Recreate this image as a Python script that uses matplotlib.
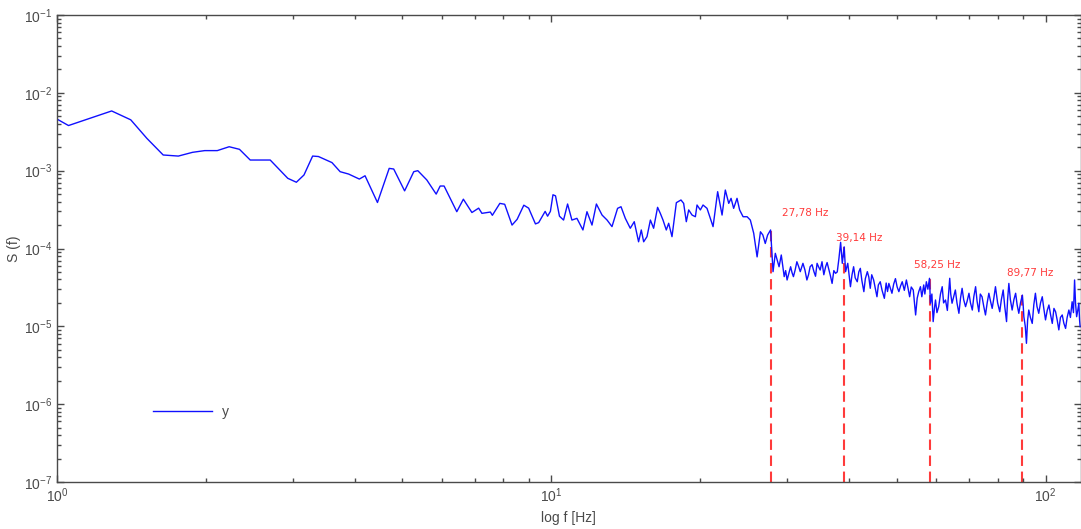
import matplotlib
matplotlib.use('Agg')
import matplotlib.pyplot as plt
from matplotlib.ticker import LogLocator, NullFormatter

# power spectrum S(f), frequency in Hz
freq = [
  1.0, 1.055, 1.29, 1.41, 1.52, 1.64, 1.76, 1.88, 1.99, 2.11, 2.23, 2.34, 2.46, 2.70, 2.93, 3.05,
  3.16, 3.29, 3.38, 3.60, 3.74, 3.89, 4.09, 4.20, 4.45, 4.70, 4.80, 5.05, 5.27, 5.37, 5.60, 5.85,
  5.96, 6.07, 6.44, 6.64, 6.91, 7.13, 7.24, 7.53, 7.60, 7.87, 8.05, 8.33, 8.53, 8.80, 9.00, 9.29,
  9.43, 9.72, 9.83, 9.96, 10.08, 10.2, 10.39,
  10.59, 10.79, 11.01, 11.27, 11.59, 11.81, 12.09, 12.34, 12.67, 12.97, 13.27, 13.62, 13.84, 14.12,
  14.45, 14.72, 15.02, 15.21, 15.38, 15.62, 15.87, 16.11, 16.41, 16.62, 16.83, 17.09, 17.28, 17.55,
  17.91, 18.30, 18.53, 18.76, 18.97, 19.27, 19.57, 19.72, 20.03, 20.28, 20.66, 21.25, 21.71, 22.16,
  22.50, 22.86, 23.11, 23.39, 23.76, 24.05, 24.44, 24.90, 25.28, 25.68, 26.09,
  26.5, 26.8, 27.1, 27.4, 27.78, 28.1, 28.4, 28.9, 29.2, 29.6, 29.8, 30.0, 30.5, 30.7, 30.9, 31.15,
  31.4, 31.65, 31.9, 32.3, 32.6, 32.9, 33.15, 33.4, 33.7, 34.0, 34.25, 34.5, 34.75, 35.0, 35.3,
  35.6, 35.9, 36.15, 36.4, 36.7, 37.0, 37.3, 37.6, 37.9, 38.2, 38.5, 38.8, 39.14, 39.4, 39.8,
  40.3, 40.6, 40.9, 41.2, 41.6, 41.9, 42.2, 42.5, 42.9, 43.2, 43.6, 43.9, 44.2, 44.5, 44.9, 45.2,
  45.6, 45.9, 46.3, 46.7, 47.2, 47.6, 47.9, 48.2, 48.6, 48.9, 49.3, 49.7, 50.1, 50.5, 50.9, 51.3,
  51.8, 52.3, 52.7, 53.1, 53.5, 54.0, 54.3, 54.6, 55.0, 55.4,
  55.84, 56.2, 56.7, 57.0, 57.4, 57.8, 58.25, 58.5, 58.9, 59.25, 59.6, 59.9, 60.3, 60.8, 61.3, 61.8,
  62.2, 62.75, 63.3, 64.0, 64.3, 64.7, 65.2, 65.7, 66.2, 66.8, 67.3, 67.8, 68.3, 68.9, 69.4, 70.0,
  70.5, 71.1, 71.6, 72.2, 72.7, 73.3, 73.8, 74.4, 75.0, 75.6, 76.2, 76.8, 77.4, 78.0, 78.6, 79.2,
  80.0, 80.8, 81.4, 82.1, 82.7, 83.4, 83.8, 84.3, 84.9, 85.6, 86.3, 87.0, 87.6, 88.3, 89.0, 89.77,
  90.1, 90.4, 91.0, 91.5, 92.0, 92.5, 93.2, 94.0, 94.7, 95.4, 96.1, 96.9, 97.7, 98.5, 99.2, 100.0,
  100.8, 101.6, 102.4, 103.2, 104.0, 104.8, 105.6, 106.4, 107.2, 108.1, 108.9, 109.8, 110.6, 111.5,
  112.3, 113.2, 113.9, 114.5, 115.0, 115.6, 116.2, 116.8, 117.2, 117.5,
]
spectrum = [
  4.6e-3, 3.8e-3, 5.85e-3, 4.5e-3, 2.6e-3, 1.59e-3, 1.54e-3, 1.72e-3, 1.81e-3, 1.81e-3, 2.03e-3,
  1.88e-3, 1.37e-3, 1.37e-3, 7.98e-4, 7.1e-4,
  8.8e-4, 1.54e-3, 1.52e-3, 1.27e-3, 9.7e-4, 9.05e-4, 7.8e-4, 8.6e-4, 3.9e-4, 1.07e-3, 1.05e-3,
  5.5e-4, 9.7e-4, 1.0e-3, 7.6e-4, 5.0e-4, 6.35e-4, 6.35e-4, 2.97e-4, 4.3e-4, 2.9e-4, 3.3e-4,
  2.83e-4, 2.94e-4, 2.67e-4, 3.8e-4, 3.7e-4, 2.0e-4, 2.37e-4, 3.6e-4, 3.3e-4, 2.07e-4, 2.15e-4,
  3.0e-4, 2.6e-4, 3.0e-4, 4.9e-4, 4.75e-4, 2.6e-4,
  2.32e-4, 3.73e-4, 2.32e-4, 2.44e-4, 1.73e-4, 2.97e-4, 2.0e-4, 3.73e-4, 2.69e-4, 2.32e-4,
  1.91e-4, 3.28e-4, 3.44e-4, 2.44e-4, 1.82e-4, 2.21e-4, 1.22e-4, 1.73e-4, 1.22e-4, 1.42e-4,
  2.32e-4, 1.82e-4, 3.38e-4, 2.83e-4, 2.32e-4, 1.73e-4, 2.11e-4, 1.42e-4, 3.88e-4, 4.2e-4,
  3.8e-4, 2.21e-4, 3.13e-4, 2.69e-4, 2.56e-4, 3.62e-4, 3.13e-4, 3.62e-4, 3.28e-4, 1.91e-4,
  5.37e-4, 2.69e-4, 5.64e-4, 3.8e-4, 4.41e-4, 3.28e-4, 4.41e-4, 3.13e-4, 2.56e-4, 2.56e-4,
  2.32e-4, 1.57e-4, 7.8e-5,
  1.64e-4, 1.49e-4, 1.16e-4, 1.49e-4, 1.73e-4, 5.04e-5, 8.67e-5, 5.83e-5, 8.25e-5, 4.35e-5,
  5.2e-5, 3.94e-5, 5.83e-5, 4.9e-5, 4.35e-5, 5.3e-5, 6.76e-5, 5.9e-5, 5.04e-5, 6.45e-5, 5.3e-5,
  3.94e-5, 4.6e-5, 5.83e-5, 6.2e-5, 5.04e-5, 4.4e-5, 6.45e-5, 5.8e-5, 5.29e-5, 6.76e-5,
  4.6e-5, 5.83e-5, 6.6e-5, 5.56e-5, 4.5e-5, 3.56e-5, 5.2e-5, 4.8e-5, 5.0e-5, 7.48e-5, 1.2e-4,
  6.45e-5, 1.05e-4, 5.04e-5, 6.45e-5,
  3.23e-5, 4.6e-5, 5.83e-5, 4.2e-5, 3.74e-5, 5.0e-5, 5.56e-5, 3.9e-5, 2.79e-5, 4.1e-5, 5.04e-5,
  4.3e-5, 3.08e-5, 4.6e-5, 3.94e-5, 3.2e-5, 2.4e-5, 3.4e-5, 3.74e-5, 2.9e-5, 2.29e-5, 3.6e-5,
  2.8e-5, 3.56e-5, 3.0e-5, 2.66e-5, 3.5e-5, 4.1e-5, 3.2e-5, 2.79e-5, 3.3e-5, 3.74e-5, 2.9e-5,
  3.94e-5, 3.1e-5, 2.4e-5, 3.2e-5, 2.93e-5, 2.0e-5, 1.4e-5, 2.3e-5, 2.79e-5,
  3.23e-5, 2.4e-5, 3.4e-5, 2.6e-5, 3.74e-5, 3.0e-5, 4.14e-5, 1.98e-5, 2.6e-5, 1.15e-5, 1.7e-5,
  2.18e-5, 1.5e-5, 1.79e-5, 2.6e-5, 3.23e-5, 2.0e-5, 2.18e-5, 1.6e-5, 4.14e-5, 2.6e-5, 1.98e-5,
  2.4e-5, 2.93e-5, 2.0e-5, 1.47e-5, 2.3e-5, 3.08e-5, 2.2e-5, 1.79e-5, 2.1e-5, 2.66e-5, 2.0e-5,
  1.62e-5, 2.4e-5, 3.23e-5, 2.1e-5, 1.54e-5, 2.6e-5, 2.4e-5, 1.8e-5, 1.4e-5, 2.0e-5, 2.66e-5,
  2.1e-5, 1.7e-5, 2.3e-5, 3.23e-5, 2.0e-5, 1.54e-5, 2.2e-5, 2.93e-5, 1.8e-5, 1.15e-5, 2.2e-5,
  3.56e-5, 2.2e-5, 1.62e-5, 2.2e-5, 2.66e-5, 1.9e-5, 1.47e-5, 2.0e-5, 2.52e-5, 1.9e-5, 1.33e-5,
  1.0e-5, 6.05e-6, 1.2e-5, 1.62e-5, 1.3e-5, 1.09e-5, 1.9e-5, 2.66e-5, 1.8e-5, 1.47e-5, 2.0e-5,
  2.4e-5, 1.7e-5, 1.21e-5, 1.6e-5, 1.88e-5, 1.4e-5, 1.09e-5, 1.7e-5, 1.54e-5, 1.2e-5, 9.0e-6,
  1.3e-5, 1.4e-5, 1.1e-5, 9.4e-6, 1.3e-5, 1.62e-5, 1.3e-5, 2.07e-5, 1.5e-5, 3.94e-5, 2.0e-5,
  1.33e-5, 1.6e-5, 1.98e-5, 1.2e-5, 9.9e-6,
]

# marked peaks
peak_freq = [27.78, 39.14, 58.25, 89.77]
peak_value = [1.73e-4, 1.05e-4, 4.14e-5, 2.52e-5]
peak_labels = ['27,78 Hz', '39,14 Hz', '58,25 Hz', '89,77 Hz']
# where each label sits (freq, S)
label_pos = [(29.35, 2.86e-4), (37.6, 1.36e-4), (54.1, 6.1e-5), (83.4, 4.8e-5)]

plt.rcParams['font.family'] = ['Liberation Sans', 'DejaVu Sans']
grey = '#4a4a4a'

fig = plt.figure(figsize=(10.81, 5.29), dpi=100)
ax = fig.add_axes([57 / 1081, 47 / 529, 1023.5 / 1081, 467 / 529])

ax.plot(freq, spectrum, color='#1010ff', lw=1.0, label='y')

for f, v in zip(peak_freq, peak_value):
  ax.plot([f, f], [1e-7, v], color='#ff3b3b', lw=1.5, linestyle=(0, (5, 2.7)), zorder=1)

for (lx, ly), txt in zip(label_pos, peak_labels):
  ax.text(lx, ly, txt, color='#ff3b3b', fontsize=7.5, family='DejaVu Sans',
          ha='left', va='center')

ax.set_xscale('log')
ax.set_yscale('log')
ax.set_xlim(1, 117.7)
ax.set_ylim(1e-7, 1e-1)

ax.yaxis.set_major_locator(LogLocator(base=10, numticks=10))
ax.yaxis.set_minor_locator(LogLocator(base=10, subs=range(2, 10), numticks=20))
ax.xaxis.set_minor_formatter(NullFormatter())
ax.yaxis.set_minor_formatter(NullFormatter())

ax.tick_params(which='both', direction='in', top=True, right=True, colors=grey,
               labelcolor=grey, labelsize=10, width=1)
ax.tick_params(which='major', length=5)
ax.tick_params(which='minor', length=3)
for sp in ax.spines.values():
  sp.set_color(grey)
  sp.set_linewidth(1)

ax.set_xlabel('log f [Hz]', fontsize=10, color=grey, labelpad=4)
ax.set_ylabel('S (f)', fontsize=10, color=grey, labelpad=2)

leg = ax.legend(loc='center left', bbox_to_anchor=(0.094, 0.15), frameon=False,
                fontsize=10, handlelength=4.25, handletextpad=0.7,
                borderpad=0, borderaxespad=0)
for t in leg.get_texts():
  t.set_color(grey)

plt.savefig('out.png', dpi=100)
